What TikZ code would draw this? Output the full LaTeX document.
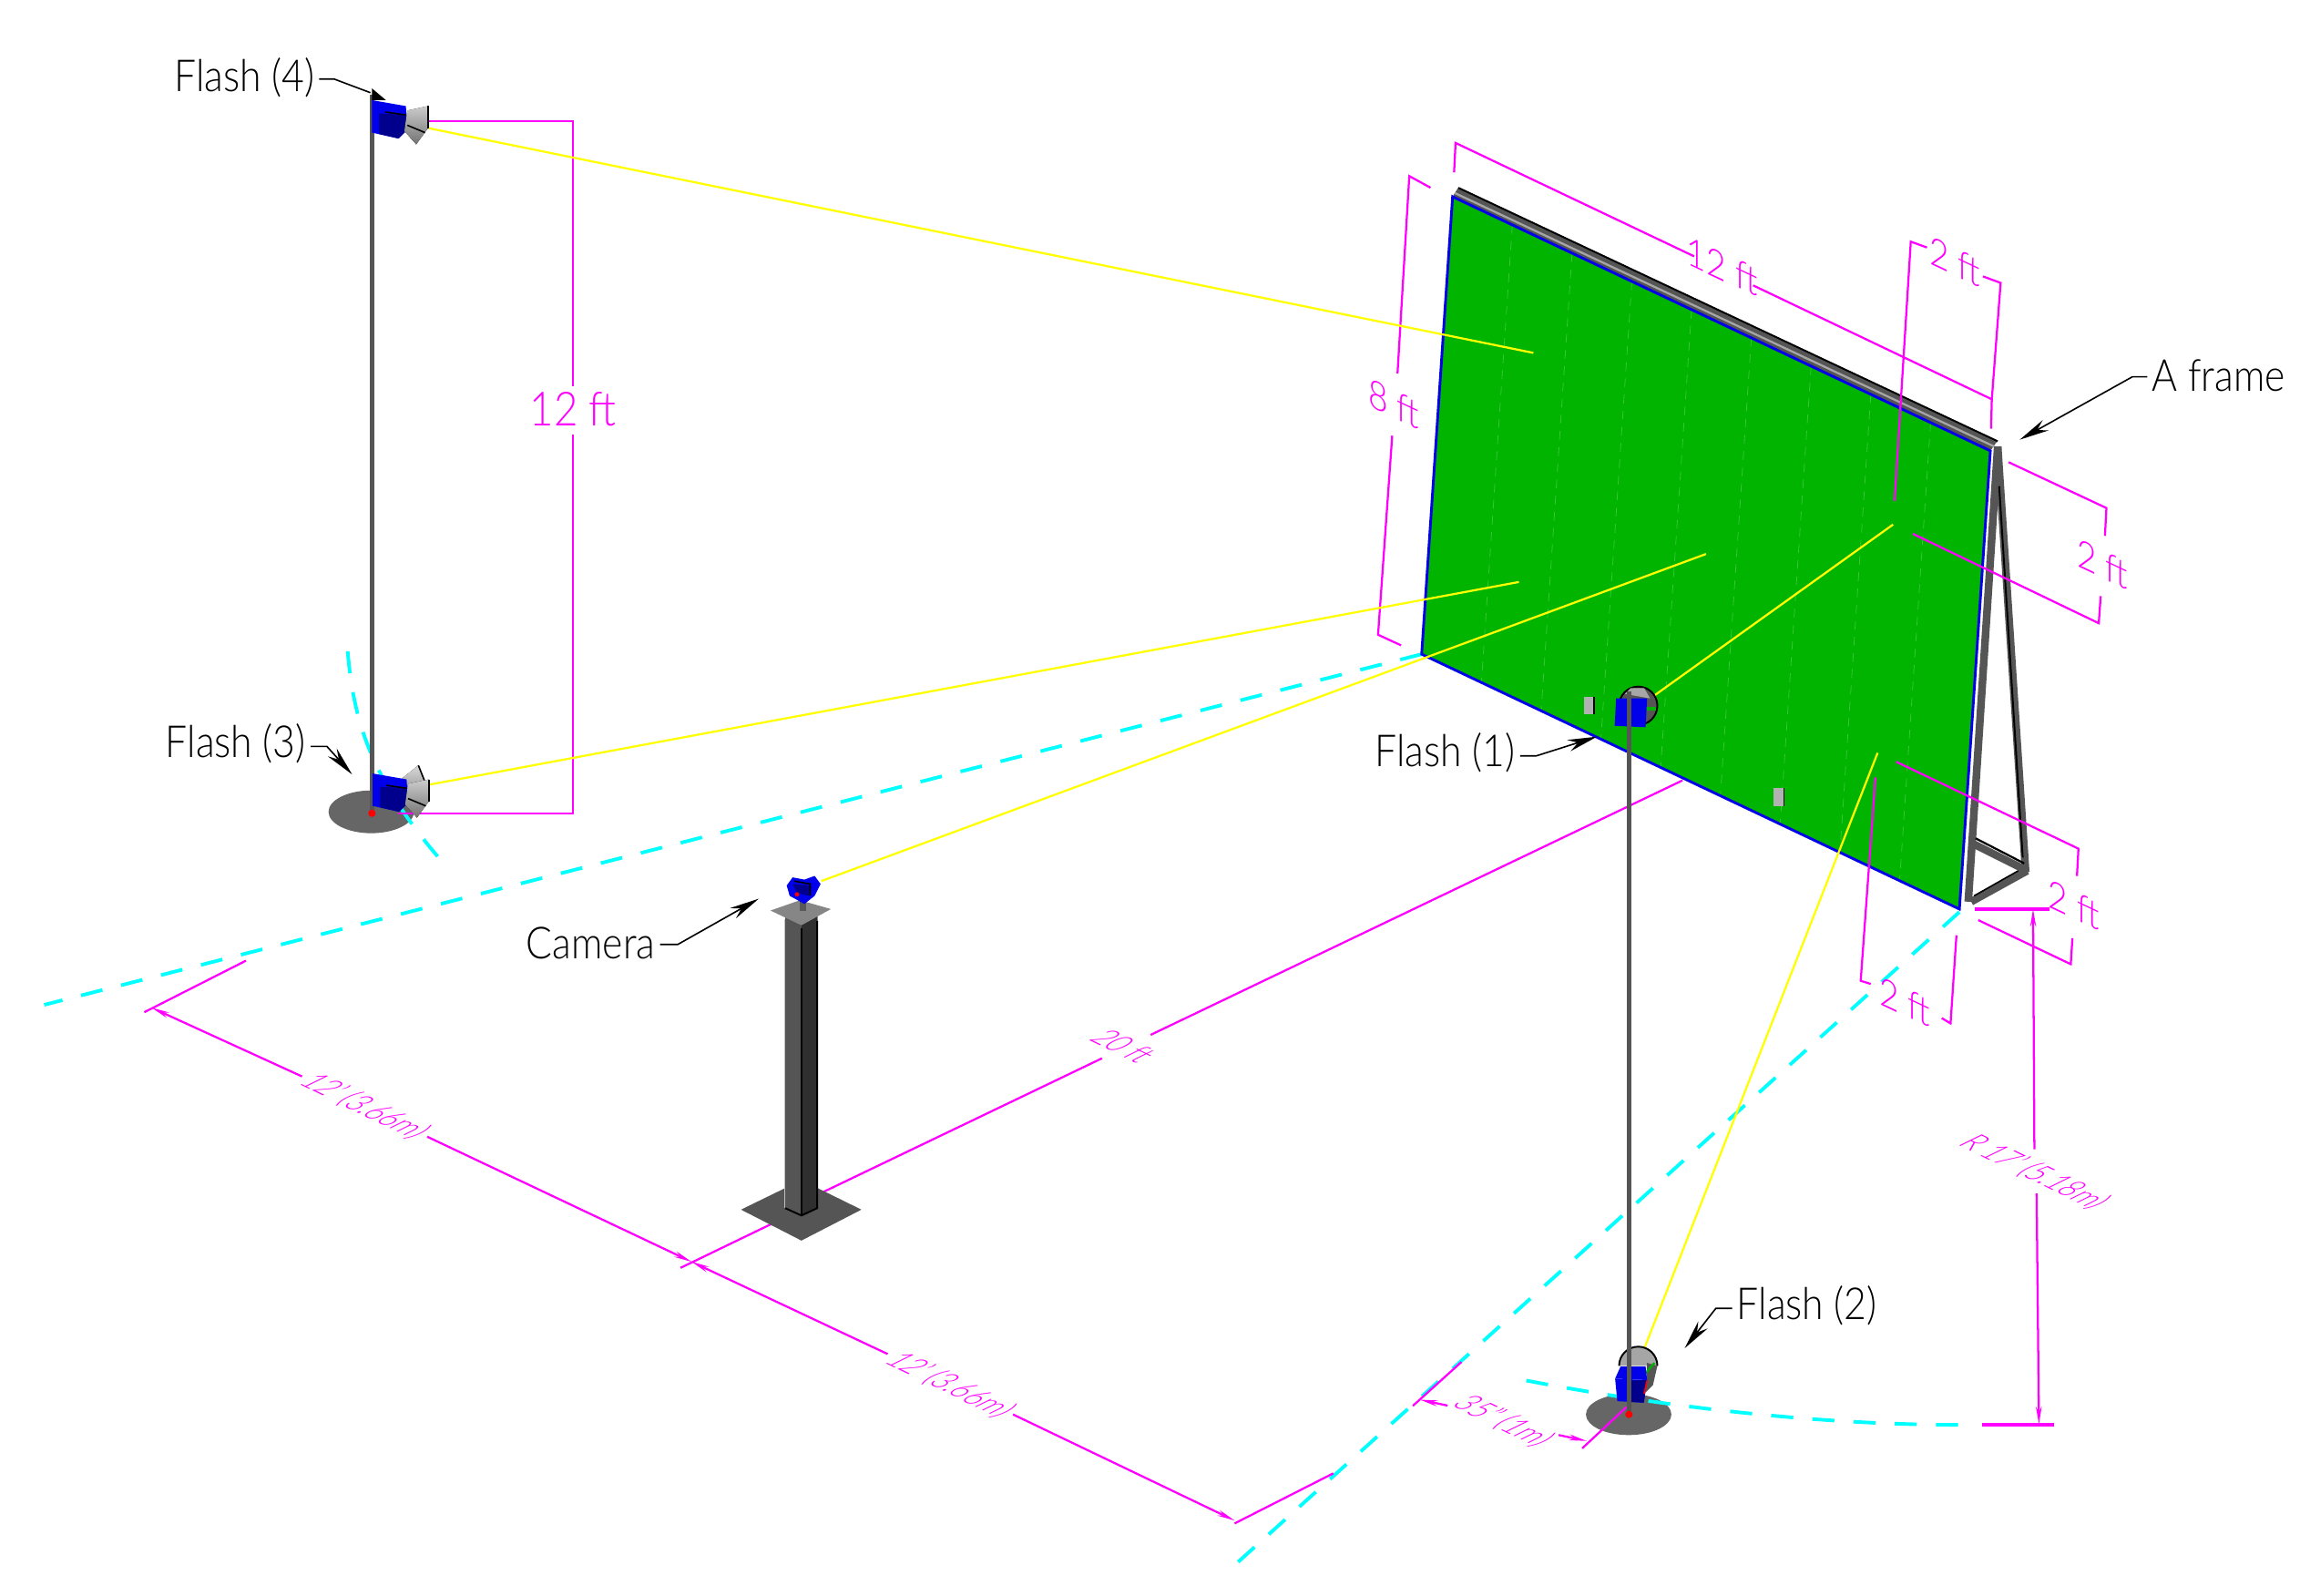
\documentclass[tikz,border=0pt]{standalone}
\usepackage{fontspec}
\setmainfont{Lato}[UprightFont={* Light}]
\usepackage{tikz}
\usetikzlibrary{arrows.meta,calc}
\definecolor{dimcol}{RGB}{255,0,255}
\definecolor{raycol}{RGB}{255,255,0}
\definecolor{axiscol}{RGB}{0,255,255}
\definecolor{pnlcol}{RGB}{0,180,0}
\definecolor{headcol}{RGB}{0,0,235}
\definecolor{headdark}{RGB}{0,0,140}
\definecolor{steel}{RGB}{85,85,85}

\begin{document}
\begin{tikzpicture}[x=0.5pt, y=-0.5pt, >=Stealth]
\tikzstyle{dim} = [dimcol, line width=0.7pt]
\tikzstyle{dimtip} = [dim, -{Stealth[length=6pt,width=2pt]}]
\tikzstyle{ray} = [raycol, line width=0.7pt]
\tikzstyle{axisline} = [axiscol, line width=1.2pt, dash pattern=on 7.5pt off 6.5pt]
\tikzstyle{seam} = [pnlcol!78!white, line width=0.25pt, dash pattern=on 3pt off 2.5pt]
\tikzstyle{leader} = [->, line width=0.5pt, >={Stealth[length=10pt,width=4pt]}]
\tikzstyle{pole} = [steel, line width=1.6pt]
\tikzstyle{disk} = [fill=steel!90!white]
\tikzstyle{tag} = [font=\fontsize{15}{18}\selectfont, inner sep=0pt, xscale=0.88]
\tikzstyle{isolbl} = [text=dimcol, font=\fontsize{13.5}{16}\selectfont, cm={.85,-.4,0,1,(0,0)}, inner sep=0pt]
\tikzstyle{gndlbl} = [text=dimcol, font=\fontsize{12}{14}\selectfont, cm={.66,-.32,.9,.44,(0,0)}, inner sep=0pt]
\tikzset{flashhead/.pic={
  \fill[headcol] (0,0) -- (23,4) -- (24,20) -- (18,26) -- (0,22) -- cycle;
  \fill[headdark] (5,9) -- (23,10) -- (24,20) -- (18,26) -- (5,23) -- cycle;
  \draw[black, line width=0.5pt] (9,8) -- (23,10);
  \fill[top color=gray!40, bottom color=gray!90!black] (24,7) -- (38,4) -- (38,19) -- (30,30) -- (22,21) -- cycle;
  \draw[black, line width=0.6pt] (38,4) -- (38,19);
  \draw[black, line width=0.5pt] (24,17) -- (36,22);
}}
\useasboundingbox (0,0) rectangle (1568,1082.7);

\coordinate (pnlTL) at (986,133.5);
\coordinate (pnlTR) at (1351,306);
\coordinate (pnlBR) at (1330,617);
\coordinate (pnlBL) at (965,444);

\fill[disk] (252,551) ellipse (29 and 14.5);
\fill[disk] (1105.5,960) ellipse (29 and 14);

\draw[axisline] (965,444) -- (30,682);
\draw[axisline] (1330,619) -- (835,1065);
\draw[axisline] (236,442) .. controls (240,490) and (252,530) .. (302,587);
\draw[axisline] (1036,937) .. controls (1130,955) and (1240,968) .. (1340,967);

\draw[steel, line width=2.6pt] (1356,303) -- (1336,612);
\draw[steel, line width=2.6pt] (1356,303) -- (1375,592);
\draw[black, line width=0.6pt] (1357,330) -- (1373,582);
\draw[steel, line width=2.6pt] (1338,612) -- (1376,591);
\draw[steel, line width=2.6pt] (1340,573) -- (1374,590);
\draw[black, line width=0.7pt] (1341,569) -- (1374,586);
\draw[black, line width=0.5pt] (1340,608) -- (1370,591);

\fill[pnlcol] (pnlTL) -- (pnlTR) -- (pnlBR) -- (pnlBL) -- cycle;
\foreach \i in {1,...,8} \draw[seam] ($(pnlTL)!\i/9!(pnlTR)$) -- ($(pnlBL)!\i/9!(pnlBR)$);
\fill[steel] (990,127) -- (1356,299) -- (1351,306) -- (986,133.5) -- cycle;
\draw[gray!70, line width=0.7pt] (987.5,131) -- (1353.5,303);
\draw[black, line width=0.6pt] (990,127.5) -- (1356,299.5);
\draw[headcol, line width=0.9pt] (pnlTL) -- (pnlTR) -- (pnlBR) -- (pnlBL) -- cycle;
\fill[gray!60] (1075,473) rectangle ++(7,12);
\fill[gray!60] (1204,535) rectangle ++(7,12);
\draw[black, line width=0.4pt] (1082,473) -- (1082,485);
\draw[black, line width=0.4pt] (1211,535) -- (1211,547);

\draw[dim] (291,82.4) -- (389,82.4) -- (389,262);
\draw[dim] (389,295) -- (389,552) -- (270,552);
\node[text=dimcol, font=\fontsize{16}{18}\selectfont, inner sep=0pt, xscale=0.88] (tallDim) at (389,278) {12 ft};

\draw[dim] (971,127.4) -- (956.6,119.5) -- (948.6,253.5);
\draw[dim] (945,295.7) -- (935.4,430.8) -- (951,438);
\node[isolbl] (pnlHeight) at (946,274) {8 ft};

\draw[dim] (987,117) -- (988,97) -- (1150,174);
\draw[dim] (1190,193.7) -- (1352,271) -- (1351.5,291);
\node[isolbl] (pnlWidth) at (1169,181) {12 ft};

\draw[dim] (1286,340) -- (1297,164) -- (1308,168);
\draw[dim] (1346,187.6) -- (1358,192) -- (1352,271);
\node[isolbl] (topOffset) at (1327,177.6) {2 ft};

\draw[dim] (1363.4,313.7) -- (1429.8,344.8) -- (1428.8,363.7);
\draw[dim] (1425.9,404.6) -- (1424.6,423) -- (1298.4,362.3);
\node[isolbl] (rightOffset) at (1427,383) {2 ft};

\draw[dim] (1287,517) -- (1410.8,576) -- (1409.8,594.6);
\draw[dim] (1406.7,636.8) -- (1405.6,654.4) -- (1342.8,624.5);
\node[isolbl] (lowOffset) at (1407.7,614) {2 ft};

\draw[dim] (1273,527.6) -- (1263,665.7) -- (1269.8,667.8);
\draw[dim] (1318,691) -- (1324,694.6) -- (1328,634.8);
\node[isolbl] (botOffset) at (1293,680) {2 ft};

\draw[dim] (1142,529.7) -- (781,702.4);
\draw[dim] (748,718.3) -- (554.7,811);
\draw[dimtip] (552,820) -- (544,824);
\draw[dim] (533.4,826) -- (462,860.5);
\node[gndlbl] (longDim) at (762.6,710) {20 ft};

\draw[dim] (98,687) -- (167,652);
\draw[dimtip] (205,730.6) -- (103,684);
\draw[dimtip] (290,771.5) -- (469.4,856.4);
\node[gndlbl] (leftDim) at (247.6,751) {12' (3.66m)};
\draw[dimtip] (602.5,919) -- (469.4,856.4);
\draw[dimtip] (687.6,960) -- (838,1032);
\node[gndlbl] (rightDim) at (645,940) {12' (3.66m)};
\draw[dim] (838,1034) -- (905,1000);

\draw[dim, line width=1pt] (1340.6,617) -- (1391,617);
\draw[dim, line width=1pt] (1345.6,967) -- (1394,967);
\draw[dimtip] (1380.9,780) -- (1380,617);
\draw[dimtip] (1382.4,810) -- (1384,966.6);
\node[gndlbl] (radiusDim) at (1381,795.6) {R 17' (5.18m)};

\draw[dim] (992,924.4) -- (959,954.2);
\draw[dim] (1074,983) -- (1104,955);
\draw[dimtip] (982.6,954) -- (963.8,950);
\draw[dimtip] (1058,974) -- (1077,978);
\node[gndlbl] (offsetDim) at (1020.5,964.6) {35" (1m)};

\draw[ray] (291,87) -- (1040.8,239.5);
\draw[ray] (289,533) -- (1031,395);
\draw[ray] (557.5,598) -- (1158,376);
\draw[ray] (1123,472) -- (1285,356);
\draw[ray] (1115.8,916) -- (1274.5,511);

\fill[steel] (503,821) -- (544,801) -- (584.7,821) -- (544,842) -- cycle;
\draw[gray!50, line width=0.5pt] (533,624) -- (533,820);
\fill[steel] (533,622) -- (555,622) -- (555,820) -- (544,825) -- (533,820) -- cycle;
\fill[steel!55!black] (544,622) -- (554.7,622) -- (554.7,820) -- (544,825) -- cycle;
\draw[black, line width=0.6pt] (544,630) -- (544,825);
\draw[black, line width=0.6pt] (554.7,625) -- (554.7,820) -- (544,825) -- (533,820);
\fill[gray!95] (523,618) -- (543,611) -- (564,617) -- (544,628) -- cycle;
\fill[gray!70!black] (543,606) rectangle (547,618);
\fill[headcol] (534,601) -- (538,595.5) -- (546,597) -- (553,594.5) -- (557,600) -- (553,608) -- (546,613.5) -- (536,608) -- cycle;
\fill[headdark] (538,600) -- (550,601) -- (549,608) -- (541,606) -- cycle;
\draw[black, line width=0.5pt] (539,598) -- (550,600) -- (550,608);
\fill[red] (541,607) circle (1.5);

\draw[pole] (252.5,64) -- (252.5,552);
\fill[black] (252.5,60) -- (262,68) -- (252.5,68) -- cycle;
\pic at (252.5,68) {flashhead};
\fill[top color=gray!30, bottom color=gray!70] (272,529) -- (284,519.5) -- (289,532) -- (276,534) -- cycle;
\draw[black, line width=0.5pt] (284,519.5) -- (289,532);
\pic at (253,525) {flashhead};
\fill[red] (252.5,552) circle (2.5);

\fill[steel] (1112,479) circle (13);
\draw[black, line width=0.6pt] (1112,479) circle (13);
\fill[gray!70] (1103,471) -- (1107,467) -- (1116,467) -- (1120,474) -- cycle;
\fill[pnlcol] (1116,480) rectangle (1124,482);
\fill[headcol] (1097,474) -- (1118,474) -- (1117,493.6) -- (1096,492.6) -- cycle;

\fill[gray!70] (1099,927) arc[start angle=180, end angle=360, radius=13] -- cycle;
\draw[black, line width=0.6pt] (1099,927) arc[start angle=180, end angle=360, radius=13];
\fill[steel] (1118,925) -- (1125,927) -- (1122,940) -- (1117,945) -- cycle;
\draw[green!70!black, line width=0.7pt] (1117,932) -- (1123,925);
\fill[headcol] (1100,927.5) -- (1117,927.5) -- (1118,936.7) -- (1096.3,935.7) -- cycle;
\fill[headcol] (1096.3,935.7) -- (1118,936.7) -- (1115.8,952) -- (1097.8,951) -- cycle;
\fill[headdark] (1106,937) -- (1118,936.7) -- (1115.8,952) -- (1106,951.5) -- cycle;
\draw[red, line width=0.5pt] (1116,946) -- (1118,937);
\draw[pole] (1105.7,469) -- (1105.7,958);
\fill[red] (1105.7,960) circle (2.5);

\node[tag] (flashFour) at (165.8,52.6) {Flash (4)};
\node[tag] (flashThree) at (160,504.6) {Flash (3)};
\node[tag] (flashOne) at (981,511) {Flash (1)};
\node[tag] (flashTwo) at (1226.6,886) {Flash (2)};
\node[tag] (cameraTag) at (401,640) {Camera};
\node[tag] (frameTag) at (1506,254.7) {A frame};

\coordinate (fourTip) at (251.4,62.9);
\coordinate (threeTip) at (239,525.6);
\coordinate (oneTip) at (1084,500);
\coordinate (twoTip) at (1143.6,915);
\coordinate (cameraTip) at (515,610);
\coordinate (frameTip) at (1371,298.4);

\draw[line width=0.5pt] (flashFour.east) ++(3,1) -- ++(10,0) -- (fourTip);
\draw[leader] (flashThree.east) ++(3,2) -- ++(11,0) -- (threeTip);
\draw[leader] (flashOne.east) ++(3,2) -- ++(11,0) -- (oneTip);
\draw[leader] (flashTwo.west) ++(-3,2) -- ++(-11,0) -- (twoTip);
\draw[leader] (cameraTag.east) ++(3,1) -- ++(12,0) -- (cameraTip);
\draw[leader] (frameTag.west) ++(-3,1) -- ++(-10,0) -- (frameTip);
\end{tikzpicture}
\end{document}
